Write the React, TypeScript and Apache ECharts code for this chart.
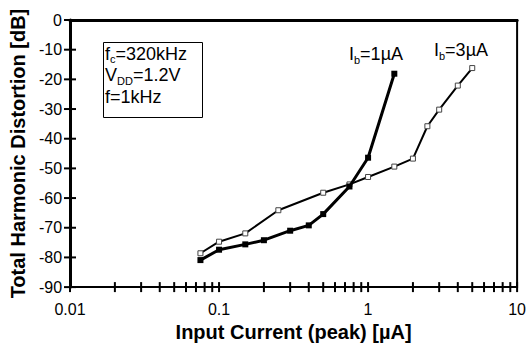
import React, { useEffect, useRef } from 'react';
import * as echarts from 'echarts';

// Ib = 1 µA (filled squares)
const ib1X = [0.075, 0.1, 0.15, 0.2, 0.3, 0.4, 0.5, 0.75, 1, 1.5];
const ib1Y = [-80.9, -77.4, -75.6, -74.2, -71.0, -69.2, -65.4, -56.1, -46.4, -18.1];
// Ib = 3 µA (open squares)
const ib3X = [0.075, 0.1, 0.15, 0.25, 0.5, 0.75, 1, 1.5, 2, 2.5, 3, 4, 5];
const ib3Y = [-78.6, -74.7, -71.9, -64.1, -58.2, -55.4, -52.9, -49.4, -46.7, -35.8, -30.2, -22.1, -16.2];

const xTickValues = [
  0.01, 0.02, 0.03, 0.04, 0.05, 0.06, 0.07, 0.08, 0.09,
  0.1, 0.2, 0.3, 0.4, 0.5, 0.6, 0.7, 0.8, 0.9,
  1, 2, 3, 4, 5, 6, 7, 8, 9, 10,
];
const yTickValues = [-90, -80, -70, -60, -50, -40, -30, -20, -10, 0];

const FONT = '"Liberation Sans", Arial, sans-serif';

const subStyle = { fontSize: 11, fontFamily: FONT, fill: '#000', verticalAlign: 'bottom', lineHeight: 13 };

export default function App() {
  const ref = useRef<HTMLDivElement>(null);
  useEffect(() => {
    if (!ref.current) return;
    const chart = echarts.init(ref.current, undefined, { renderer: 'svg' });
    const option: any = {
      animation: false,
      backgroundColor: '#fff',
      grid: {
        left: 70, right: 7, top: 20, bottom: 59,
        show: true, borderColor: '#000', borderWidth: 2, backgroundColor: 'transparent',
      },
      xAxis: {
        type: 'log', logBase: 10, min: 0.01, max: 10,
        axisLine: { show: true, lineStyle: { color: '#000', width: 3 } },
        axisTick: { show: false },
        splitLine: { show: false },
        axisLabel: { color: '#000', fontSize: 16, fontFamily: FONT, margin: 14 },
        name: 'Input Current (peak) [µA]',
        nameLocation: 'middle', nameGap: 33,
        nameTextStyle: { color: '#000', fontSize: 20, fontWeight: 'bold', fontFamily: FONT },
      },
      yAxis: {
        type: 'value', min: -90, max: 0, interval: 10,
        axisLine: { show: true, lineStyle: { color: '#000', width: 3 } },
        axisTick: { show: false },
        splitLine: { show: false },
        axisLabel: { color: '#000', fontSize: 16, fontFamily: FONT, margin: 8 },
        name: 'Total Harmonic Distortion [dB]',
        nameLocation: 'middle', nameGap: 36,
        nameTextStyle: { color: '#000', fontSize: 20, fontWeight: 'bold', fontFamily: FONT },
      },
      series: [
        {
          type: 'line', name: 'Ib=3µA',
          data: ib3X.map((x, i) => [x, ib3Y[i]]),
          lineStyle: { color: '#000', width: 2 },
          itemStyle: { color: '#fff', borderColor: '#444', borderWidth: 1 },
          symbol: 'rect', symbolSize: 5, showAllSymbol: true, z: 3,
        },
        {
          type: 'line', name: 'Ib=1µA',
          data: ib1X.map((x, i) => [x, ib1Y[i]]),
          lineStyle: { color: '#000', width: 3 },
          itemStyle: { color: '#000', borderColor: '#000', borderWidth: 0 },
          symbol: 'rect', symbolSize: 6, showAllSymbol: true, z: 4,
        },
        {
          type: 'custom', clip: false, silent: true, z: 10,
          data: xTickValues.map((v) => [v, -90]),
          renderItem: (params: any, api: any) => {
            const p = api.coord([api.value(0), api.value(1)]);
            return {
              type: 'line',
              shape: { x1: p[0], y1: p[1] - 5, x2: p[0], y2: p[1] + 5 },
              style: { stroke: '#000', lineWidth: 2 },
            };
          },
        },
        {
          type: 'custom', clip: false, silent: true, z: 10,
          data: yTickValues.map((v) => [0.01, v]),
          renderItem: (params: any, api: any) => {
            const p = api.coord([api.value(0), api.value(1)]);
            return {
              type: 'line',
              shape: { x1: p[0] - 6, y1: p[1], x2: p[0] + 6, y2: p[1] },
              style: { stroke: '#000', lineWidth: 2 },
            };
          },
        },
      ],
      graphic: [
        {
          type: 'rect', z: 20,
          shape: { x: 103.5, y: 42.5, width: 99, height: 75 },
          style: { fill: '#fff', stroke: '#000', lineWidth: 1 },
        },
        {
          type: 'text', z: 21, left: 105, top: 43,
          style: {
            text: 'f{sub|c}=320kHz\nV{sub|DD}=1.2V\nf=1kHz',
            fontSize: 18, fontFamily: FONT, fill: '#000', lineHeight: 21.5,
            rich: { sub: subStyle },
          },
        },
        {
          type: 'text', z: 21, left: 349, top: 43,
          style: {
            text: 'I{sub|b}=1µA', fontSize: 18, fontFamily: FONT, fill: '#000', lineHeight: 22,
            rich: { sub: subStyle },
          },
        },
        {
          type: 'text', z: 21, left: 434, top: 39,
          style: {
            text: 'I{sub|b}=3µA', fontSize: 18, fontFamily: FONT, fill: '#000', lineHeight: 22,
            rich: { sub: subStyle },
          },
        },
      ],
    };
    chart.setOption(option);
    return () => chart.dispose();
  }, []);
  return (
    <div
      ref={ref}
      style={{ position: 'fixed', left: 0, top: 0, width: 529, height: 347 }}
    />
  );
}
